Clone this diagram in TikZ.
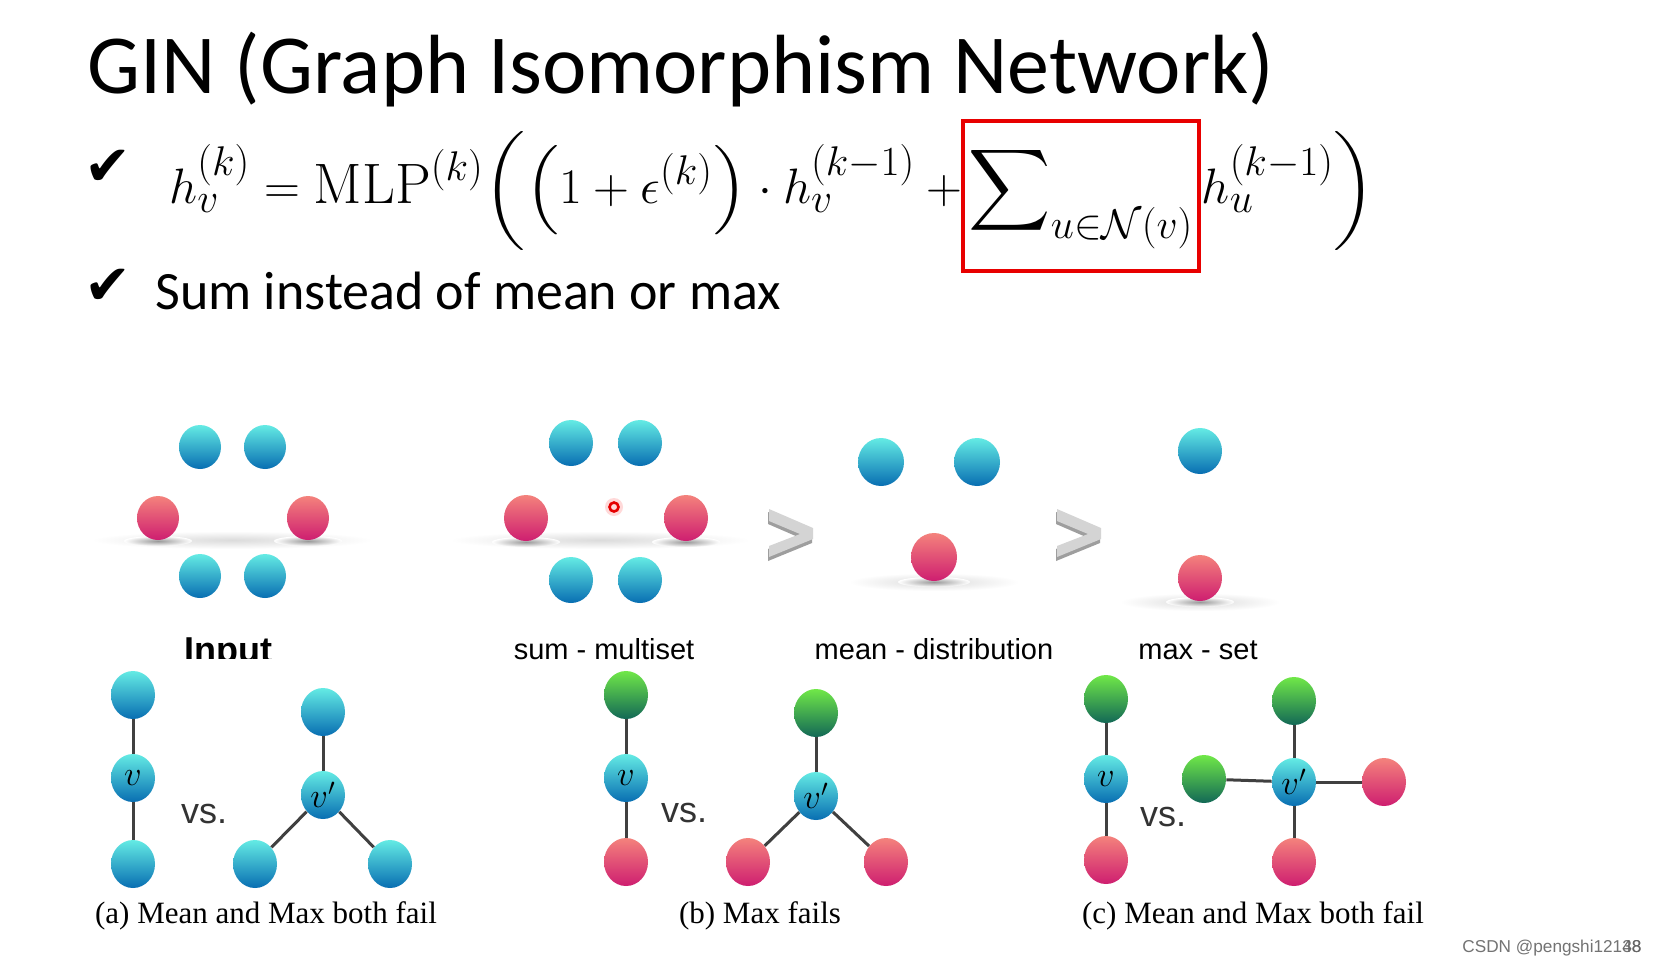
\documentclass[tikz,border=0pt]{standalone}
\usepackage{amsmath,amssymb}
\usepackage{graphicx}
\usepackage{fontspec}
\newfontfamily\titlefont{Carlito}
\newfontfamily\labelfont{Liberation Sans}
\newfontfamily\capfont{Liberation Serif}
\newfontfamily\symfont{DejaVu Sans}
\usepackage{xcolor}
\definecolor{btop}{RGB}{100,235,228}
\definecolor{bbot}{RGB}{8,110,178}
\definecolor{rtop}{RGB}{244,130,124}
\definecolor{rbot}{RGB}{206,30,112}
\definecolor{gtop}{RGB}{112,232,72}
\definecolor{gbot}{RGB}{18,104,86}
\definecolor{boxred}{RGB}{232,0,0}
\usepackage{tikz}
\usetikzlibrary{shapes.geometric,positioning,calc}
\newcommand{\sqdelim}[1]{\vcenter{\hbox{\scalebox{1}[0.87]{$#1$}}}}

\begin{document}
\begin{tikzpicture}[x=0.5pt,y=-0.5pt,
  ball/.style={ellipse,inner sep=0pt,minimum width=22pt,minimum height=24pt},
  bball/.style={ball,top color=btop,bottom color=bbot},
  rball/.style={ball,top color=rtop,bottom color=rbot},
  gball/.style={ball,top color=gtop,bottom color=gbot},
  link/.style={draw=black!75,line width=1.5pt},
  grouplabel/.style={anchor=base,inner sep=0pt,font=\labelfont\fontsize{14.5}{17}\selectfont},
  caption/.style={anchor=base,inner sep=0pt,font=\capfont\fontsize{15.5}{18}\selectfont},
  vslabel/.style={inner sep=0pt,text=black!80,font=\labelfont\fontsize{18}{21}\selectfont},
  eq/.style={anchor=base west,inner sep=0pt,font=\fontsize{28.5}{32}\selectfont},
  tick/.style={inner sep=0pt,font=\symfont\fontsize{28}{30}\selectfont},
  chevron/.style={fill=black!17},
  chevshade/.style={fill=black!38}]
  \fill[white] (0,0) rectangle (1658,965);
  \useasboundingbox (0,0) rectangle (1658,965);

  \node[anchor=base west,inner sep=0pt,font=\titlefont\fontsize{42}{50}\selectfont] (title) at (87,93) {GIN (Graph Isomorphism Network)};
  \node[tick] (chk1) at (108,168) {✔};
  \node[tick] (chk2) at (108,287) {✔};
  \node[eq] (eqL) at (169,203) {$h_v^{(k)} = \mathrm{MLP}^{(k)}\sqdelim{\biggl(}\sqdelim{\Bigl(}1+\epsilon^{(k)}\sqdelim{\Bigr)}\cdot h_v^{(k-1)} +{}\mskip-\medmuskip$};
  \node[eq,draw=boxred,line width=2pt,inner xsep=3pt,text height=41pt,text depth=34pt] (sumbox) at ($(eqL.base east)+(-2,0)$) {$\displaystyle\sum\nolimits_{u\in\mathcal{N}(v)}$};
  \node[eq] (eqR) at (sumbox.base east) {$h_u^{(k-1)}\sqdelim{\biggr)}$};
  \node[anchor=base west,inner sep=0pt,font=\titlefont\fontsize{27}{32}\selectfont] (sumline) at (155,309) {Sum instead of mean or max};

  % shadows
  \shade[inner color=black!14,outer color=white] (232,540) ellipse (140 and 9);
  \shade[inner color=black!40,outer color=white] (158,541) ellipse (34 and 5);
  \shade[inner color=black!40,outer color=white] (308,541) ellipse (34 and 5);
  \shade[inner color=black!14,outer color=white] (600,540) ellipse (150 and 9);
  \shade[inner color=black!40,outer color=white] (526,542) ellipse (34 and 5);
  \shade[inner color=black!40,outer color=white] (686,542) ellipse (34 and 5);
  \shade[inner color=black!14,outer color=white] (934,582) ellipse (85 and 9);
  \shade[inner color=black!40,outer color=white] (934,582) ellipse (36 and 5);
  \shade[inner color=black!14,outer color=white] (1200,602) ellipse (80 and 9);
  \shade[inner color=black!40,outer color=white] (1200,602) ellipse (34 and 5);

  % input
  \node[bball,minimum width=21pt,minimum height=22pt] (in1) at (200,447) {};
  \node[bball,minimum width=21pt,minimum height=22pt] (in2) at (265,447) {};
  \node[rball,minimum width=21pt,minimum height=22pt] (in3) at (158,518) {};
  \node[rball,minimum width=21pt,minimum height=22pt] (in4) at (308,518) {};
  \node[bball,minimum width=21pt,minimum height=22pt] (in5) at (200,576) {};
  \node[bball,minimum width=21pt,minimum height=22pt] (in6) at (265,576) {};
  % sum
  \node[bball,minimum width=22pt,minimum height=23pt] (sm1) at (571,443) {};
  \node[bball,minimum width=22pt,minimum height=23pt] (sm2) at (640,443) {};
  \node[rball,minimum width=22pt,minimum height=23pt] (sm3) at (526,518) {};
  \node[rball,minimum width=22pt,minimum height=23pt] (sm4) at (686,518) {};
  \node[bball,minimum width=22pt,minimum height=23pt] (sm5) at (571,580) {};
  \node[bball,minimum width=22pt,minimum height=23pt] (sm6) at (640,580) {};
  \fill[red!15] (614,507) circle (9);
  \draw[red!90!black,line width=1.3pt] (614,507) circle (4.5);
  % mean
  \node[bball,minimum width=23pt,minimum height=24pt] (mn1) at (881,462) {};
  \node[bball,minimum width=23pt,minimum height=24pt] (mn2) at (977,462) {};
  \node[rball,minimum width=23pt,minimum height=24pt] (mn3) at (934,557) {};
  % max
  \node[bball,minimum width=22pt,minimum height=23pt] (mx1) at (1200,451) {};
  \node[rball,minimum width=22pt,minimum height=23pt] (mx2) at (1200,578) {};

  % chevrons
  \fill[chevshade] (768,512) -- (812,531) -- (812,543) -- (768,561) -- (768,549) -- (798,537) -- (768,524) -- cycle;
  \fill[chevron] (769,509) -- (813,528) -- (813,539) -- (769,557) -- (769,546) -- (800,534) -- (769,521) -- cycle;
  \fill[chevshade] (1056,512) -- (1100,531) -- (1100,543) -- (1056,561) -- (1056,549) -- (1086,537) -- (1056,524) -- cycle;
  \fill[chevron] (1057,509) -- (1101,528) -- (1101,539) -- (1057,557) -- (1057,546) -- (1088,534) -- (1057,521) -- cycle;

  \begin{scope}
    \clip (100,600) rectangle (400,658);
    \node[anchor=base,inner sep=0pt,font=\labelfont\bfseries\fontsize{18}{22}\selectfont] (lin) at (228,662) {Input};
  \end{scope}
  \node[grouplabel] (lsum) at (604,659) {sum - multiset};
  \node[grouplabel] (lmean) at (934,659) {mean - distribution};
  \node[grouplabel] (lmax) at (1198,659) {max - set};

  % (a)
  \node[bball] (a1) at (133,695) {};
  \node[bball,font=\fontsize{17}{20}\selectfont] (av) at (133,778) {$v$};
  \node[bball] (a2) at (133,864) {};
  \node[bball] (a3) at (323,712) {};
  \node[bball,font=\fontsize{17}{20}\selectfont] (aw) at (323,795) {$v'$};
  \node[bball] (a4) at (255,864) {};
  \node[bball] (a5) at (390,864) {};
  \draw[link] (a1) -- (av) -- (a2);
  \draw[link] (a3) -- (aw);
  \draw[link] (aw) -- (a4);
  \draw[link] (aw) -- (a5);
  \node[vslabel] (vsa) at (204,814) {vs.};
  \node[caption] (capa) at (266,923) {(a) Mean and Max both fail};

  % (b)
  \node[gball] (b1) at (626,695) {};
  \node[bball,font=\fontsize{17}{20}\selectfont] (bv) at (626,778) {$v$};
  \node[rball] (b2) at (626,862) {};
  \node[gball] (b3) at (816,713) {};
  \node[bball,font=\fontsize{17}{20}\selectfont] (bw) at (816,796) {$v'$};
  \node[rball] (b4) at (748,862) {};
  \node[rball] (b5) at (886,862) {};
  \draw[link] (b1) -- (bv) -- (b2);
  \draw[link] (b3) -- (bw);
  \draw[link] (bw) -- (b4);
  \draw[link] (bw) -- (b5);
  \node[vslabel] (vsb) at (684,813) {vs.};
  \node[caption] (capb) at (760,923) {(b) Max fails};

  % (c)
  \node[gball] (c1) at (1106,699) {};
  \node[bball,font=\fontsize{17}{20}\selectfont] (cv) at (1106,779) {$v$};
  \node[rball] (c2) at (1106,860) {};
  \node[bball,font=\fontsize{17}{20}\selectfont] (cw) at (1294,782) {$v'$};
  \node[gball] (c3) at (1294,701) {};
  \node[gball] (c4) at (1204,779) {};
  \node[rball] (c5) at (1384,782) {};
  \node[rball] (c6) at (1294,862) {};
  \draw[link] (c1) -- (cv) -- (c2);
  \draw[link] (c3) -- (cw);
  \draw[link] (c4) -- (cw);
  \draw[link] (cw) -- (c5);
  \draw[link] (cw) -- (c6);
  \node[vslabel] (vsc) at (1163,817) {vs.};
  \node[caption] (capc) at (1253,923) {(c) Mean and Max both fail};

  \node[anchor=base west,inner sep=0pt,text=black!55,font=\labelfont\fontsize{8.6}{10}\selectfont] (mark) at (1462,952) {CSDN @pengshi12138};
  \node[anchor=base east,inner sep=0pt,text=black!60,font=\labelfont\fontsize{8.6}{10}\selectfont] (page) at (mark.base east) {48};
\end{tikzpicture}
\end{document}
